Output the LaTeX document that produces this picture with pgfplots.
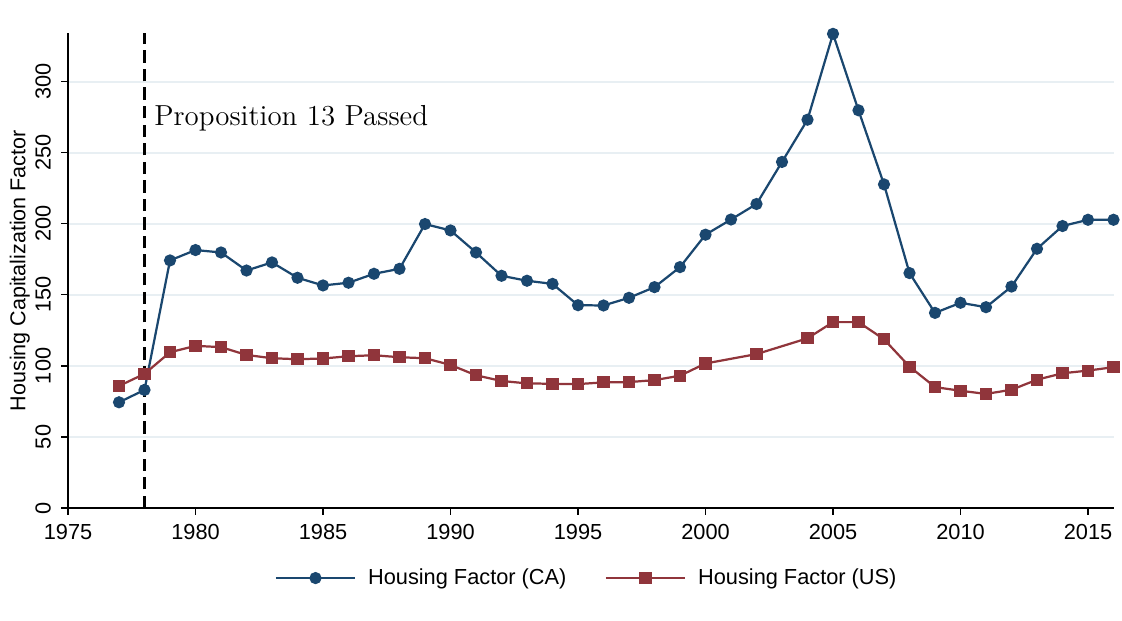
\documentclass[border=0pt]{standalone}
\usepackage{fontspec}
\usepackage{pgfplots}
\pgfplotsset{compat=1.18}
\newfontfamily\arial{Liberation Sans}
\newfontfamily\lmr{Latin Modern Roman}
\definecolor{stnavy}{RGB}{26,71,111}
\definecolor{stmaroon}{RGB}{144,53,59}
\definecolor{stgrid}{RGB}{232,239,243}
\begin{document}
\begin{tikzpicture}
\begin{axis}[
  scale only axis,
  width=422.6pt, height=191.9pt,
  xmin=1975, xmax=2016, ymin=0, ymax=334,
  axis lines*=left,
  axis line style={line width=0.6pt},
  clip=false,
  xtick={1975,1980,...,2015},
  ytick={0,50,...,300},
  tick align=outside,
  major tick length=2.8pt,
  tick style={line width=0.5pt,black},
  ymajorgrids,
  grid style={stgrid, line width=0.8pt},
  /pgf/number format/assume math mode=true,
  /pgf/number format/1000 sep={},
  tick label style={font=\arial\fontsize{8.8}{10}\selectfont},
  yticklabel style={rotate=90, anchor=south, inner sep=0pt},
  xticklabel style={anchor=north, inner sep=0pt},
  yticklabel shift=3.9pt,
  xticklabel shift=3.7pt,
  ylabel={Housing Capitalization Factor},
  ylabel style={font=\arial\fontsize{8.7}{10}\selectfont, at={(axis description cs:-0.046,0.5)}, anchor=center, rotate=0},
  legend style={draw=none, font=\arial\fontsize{8.8}{10}\selectfont, at={(0.4975,-0.1475)}, anchor=center, legend columns=2, inner sep=0pt},
  legend cell align=left,
  /tikz/every odd column/.append style={column sep=2.8pt},
  /tikz/every even column/.append style={column sep=13.5pt},
  legend image code/.code={\draw[#1, mark repeat=2, mark phase=2] plot coordinates {(0pt,0pt) (16pt,0pt) (32pt,0pt)};},
]
\addplot[stnavy, line width=0.9pt, mark=*, mark size=2pt, mark options={solid, fill=stnavy, draw=stnavy}] coordinates {
(1977,74.4) (1978,83.1) (1979,174.2) (1980,181.5) (1981,179.8) (1982,167.1) (1983,172.8) (1984,162.0) (1985,156.6) (1986,158.5) (1987,164.8) (1988,168.3) (1989,199.8) (1990,195.3) (1991,179.8) (1992,163.4) (1993,159.9) (1994,157.7) (1995,142.7) (1996,142.5) (1997,147.9) (1998,155.4) (1999,169.5) (2000,192.3) (2001,203.0) (2002,213.9) (2003,243.5) (2004,273.2) (2005,333.6) (2006,279.8) (2007,227.7) (2008,165.3) (2009,137.3) (2010,144.4) (2011,141.3) (2012,155.8) (2013,182.4) (2014,198.4) (2015,202.8) (2016,202.8)
};
\addlegendentry{Housing Factor (CA)}
\addplot[stmaroon, line width=0.9pt, mark=square*, mark size=2pt, mark options={solid, fill=stmaroon, draw=stmaroon}] coordinates {
(1977,85.9) (1978,94.4) (1979,109.6) (1980,114.1) (1981,113.2) (1982,107.7) (1983,105.4) (1984,104.7) (1985,105.2) (1986,106.8) (1987,107.5) (1988,106.1) (1989,105.4) (1990,100.7) (1991,93.4) (1992,89.4) (1993,87.7) (1994,87.4) (1995,87.2) (1996,88.4) (1997,88.6) (1998,90.0) (1999,93.1) (2000,101.7) (2002,108.3) (2004,119.4) (2005,130.8) (2006,130.8) (2007,118.7) (2008,99.5) (2009,85.1) (2010,82.5) (2011,80.3) (2012,83.2) (2013,90.3) (2014,94.8) (2015,96.7) (2016,99.1)
};
\addlegendentry{Housing Factor (US)}
\addplot[black, line width=0.9pt, dash pattern=on 5pt off 2.5pt, forget plot] coordinates {(1978,0) (1978,334)};
\node[anchor=base west, inner sep=0pt, font=\lmr\fontsize{11.7}{14}\selectfont] at ([xshift=3.8pt]axis cs:1978,269) {Proposition 13 Passed};
\coordinate (bl) at (rel axis cs:0,0);
\coordinate (tr) at (rel axis cs:1,1);
\end{axis}
\pgfresetboundingbox
\path ([xshift=-27.49pt,yshift=-45.27pt]bl) rectangle ([xshift=3.44pt,yshift=13.46pt]tr);
\end{tikzpicture}
\end{document}
